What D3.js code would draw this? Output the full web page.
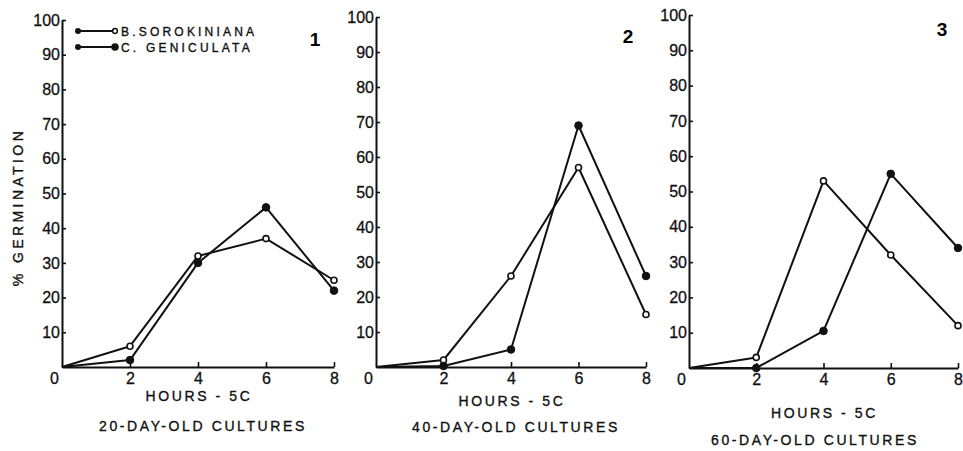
<!DOCTYPE html>
<meta charset="utf-8">
<head>
<script src="https://cdnjs.cloudflare.com/ajax/libs/d3/7.8.5/d3.min.js"></script>
<style>
body { margin: 0; background: #fff; }
svg { display: block; }
.ttl { font-family: "Liberation Sans", Arial, sans-serif; font-size: 14px; letter-spacing: 2.6px; fill: #111; stroke: #111; stroke-width: 0.35px; }
.leg { font-family: "Liberation Sans", Arial, sans-serif; font-size: 12px; letter-spacing: 3.2px; fill: #111; stroke: #111; stroke-width: 0.35px; }
.tick text { font-family: "Liberation Sans", Arial, sans-serif; font-size: 16px; fill: #111; stroke: #111; stroke-width: 0.3px; }
</style>
</head>
<body>
<div id="chart"></div>
<script>

// data
var hours = [0, 2, 4, 6, 8];
var sorokiniana1 = [0, 6, 32, 37, 25];
var geniculata1  = [0, 2, 30, 46, 22];
var sorokiniana2 = [0, 2, 26, 57, 15];
var geniculata2  = [0, 0.3, 5, 69, 26];
var sorokiniana3 = [0, 3, 53, 32, 12];
var geniculata3  = [0, 0, 10.5, 55, 34];
var yTicks = [10, 20, 30, 40, 50, 60, 70, 80, 90, 100];
var xTicks = [0, 2, 4, 6, 8];
var panelNames = ['1', '2', '3'];
var cultureLabels = ['20-DAY-OLD CULTURES', '40-DAY-OLD CULTURES', '60-DAY-OLD CULTURES'];
var seriesNames = ['B.SOROKINIANA', 'C. GENICULATA'];

var width = 963, height = 451;

// panel layout (pixel boxes)
var panels = [
  { x0: 62,  x1: 334, yb: 367, yt: 20, numX: 315, numY: 46, hY: 401, cX: 203, cY: 431 },
  { x0: 376, x1: 646, yb: 367, yt: 17, numX: 628, numY: 43, hY: 406, cX: 516, cY: 432 },
  { x0: 689, x1: 958, yb: 368, yt: 15, numX: 942, numY: 36, hY: 418, cX: 815, cY: 445 }
];
var sData = [sorokiniana1, sorokiniana2, sorokiniana3];
var gData = [geniculata1, geniculata2, geniculata3];

var svg = d3.select('#chart').append('svg')
  .attr('width', width)
  .attr('height', height);

panels.forEach(function(p, k) {
  var x = d3.scaleLinear().domain([0, 8]).range([p.x0, p.x1]);
  var y = d3.scaleLinear().domain([0, 100]).range([p.yb, p.yt]);
  var g = svg.append('g');

  // y axis
  var ya = g.append('g')
    .attr('transform', 'translate(' + p.x0 + ',0)')
    .call(d3.axisLeft(y).tickValues(yTicks).tickSize(-4).tickSizeOuter(0).tickPadding(2));
  // x axis
  var xa = g.append('g')
    .attr('transform', 'translate(0,' + p.yb + ')')
    .call(d3.axisBottom(x).tickValues(xTicks).tickSize(-5).tickSizeOuter(0).tickPadding(6));
  [ya, xa].forEach(function(a) {
    a.selectAll('path.domain').attr('stroke', '#111').attr('stroke-width', 2);
    a.selectAll('.tick line').attr('stroke', '#111').attr('stroke-width', 1.6);
    a.attr('font-family', null).attr('font-size', null);
  });
  xa.selectAll('.tick').filter(function(d) { return d === 0; })
    .select('text').attr('dx', -8);
  xa.selectAll('.tick').filter(function(d) { return d === 0; })
    .select('line').remove();

  var line = d3.line()
    .x(function(d, i) { return x(hours[i]); })
    .y(function(d) { return y(d); });

  [sData[k], gData[k]].forEach(function(vals, si) {
    g.append('path')
      .datum(vals)
      .attr('d', line)
      .attr('fill', 'none')
      .attr('stroke', '#111')
      .attr('stroke-width', 2)
      .attr('stroke-linejoin', 'round');
    g.selectAll('.m' + si)
      .data(vals.slice(1))
      .enter()
      .append('circle')
      .attr('class', 'm' + si)
      .attr('cx', function(d, i) { return x(hours[i + 1]); })
      .attr('cy', function(d) { return y(d); })
      .attr('r', si === 0 ? 3 : 3.8)
      .attr('fill', si === 0 ? '#fff' : '#111')
      .attr('stroke', '#111')
      .attr('stroke-width', si === 0 ? 1.6 : 1);
  });

  // panel number
  g.append('text')
    .attr('x', p.numX)
    .attr('y', p.numY)
    .attr('text-anchor', 'middle')
    .style('font-family', '"Liberation Sans", Arial, sans-serif')
    .style('font-size', '19px')
    .style('font-weight', 'bold')
    .text(panelNames[k]);

  g.append('text')
    .attr('class', 'ttl')
    .attr('x', (p.x0 + p.x1) / 2 + 1)
    .attr('y', p.hY)
    .attr('text-anchor', 'middle')
    .text('HOURS - 5C');
  g.append('text')
    .attr('class', 'ttl')
    .attr('x', p.cX)
    .attr('y', p.cY)
    .attr('text-anchor', 'middle')
    .text(cultureLabels[k]);
});

// y title
svg.append('text')
  .attr('class', 'ttl')
  .attr('transform', 'translate(23,207) rotate(-90)')
  .attr('text-anchor', 'middle')
  .style('letter-spacing', '3.4px')
  .text('% GERMINATION');

// legend
var legY = [31, 47];
seriesNames.forEach(function(name, i) {
  svg.append('line')
    .attr('x1', 78).attr('x2', 115)
    .attr('y1', legY[i]).attr('y2', legY[i])
    .attr('stroke', '#111').attr('stroke-width', 2);
  svg.append('circle')
    .attr('cx', 78).attr('cy', legY[i]).attr('r', 3)
    .attr('fill', '#111');
  svg.append('circle')
    .attr('cx', 115).attr('cy', legY[i]).attr('r', i === 0 ? 2.4 : 3)
    .attr('fill', i === 0 ? '#fff' : '#111')
    .attr('stroke', '#111').attr('stroke-width', 1.5);
  svg.append('text')
    .attr('class', 'leg')
    .attr('x', 121)
    .attr('y', legY[i] + 4.5)
    .text(name);
});

</script>
</body>
